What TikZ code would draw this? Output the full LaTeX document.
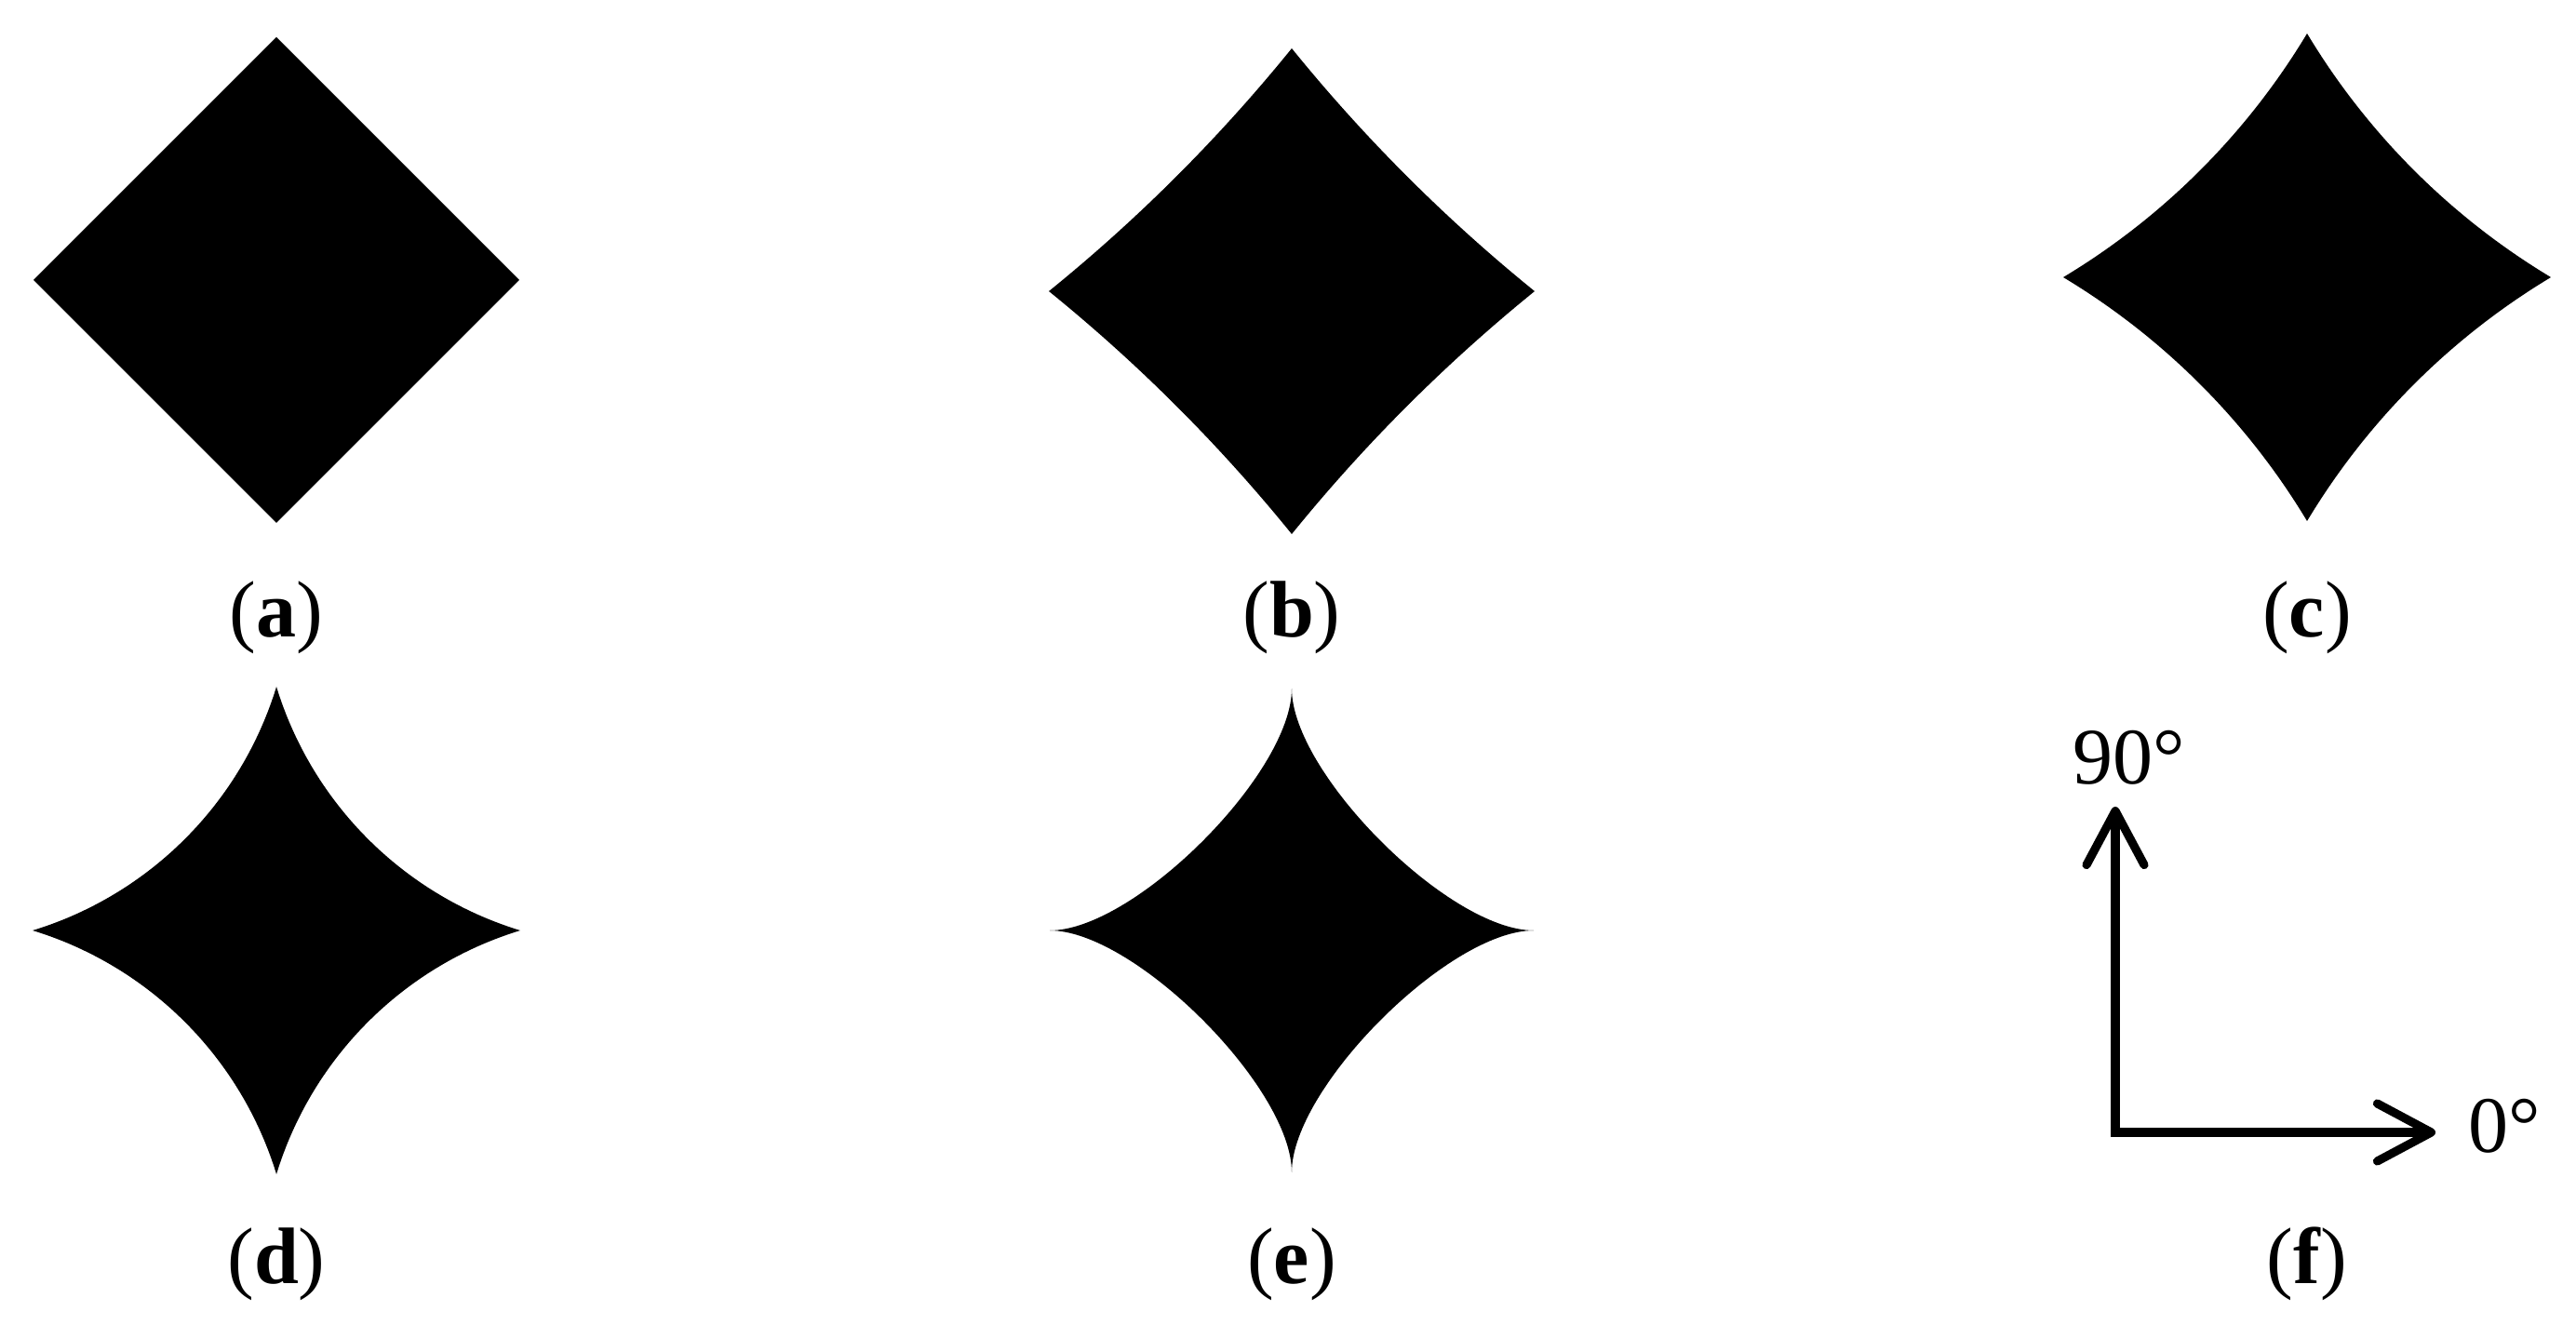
\documentclass[tikz,border=0pt]{standalone}
\usepackage{fontspec}
\setmainfont{Liberation Serif}
\usetikzlibrary{arrows.meta}
% four circular sides: centre, half size, angle of the sides at the tips
\newcommand{\arcshape}[3]{%
  \pgfmathsetmacro{\rr}{#2/(1-tan(#3))/cos(#3)}%
  \fill[shift={#1}] (#2,0)
    arc[start angle=270-#3, end angle=180+#3, radius=\rr]
    arc[start angle=360-#3, end angle=270+#3, radius=\rr]
    arc[start angle=90-#3, end angle=#3, radius=\rr]
    arc[start angle=180-#3, end angle=90+#3, radius=\rr] -- cycle;}
% four cusps: centre, half size, handle length
\newcommand{\cuspshape}[3]{%
  \begin{scope}[shift={#1},x=#2cm,y=#2cm]
  \fill (1,0) .. controls (1-#3,0) and (0,1-#3) .. (0,1)
    .. controls (0,1-#3) and (-1+#3,0) .. (-1,0)
    .. controls (-1+#3,0) and (0,-1+#3) .. (0,-1)
    .. controls (0,-1+#3) and (1-#3,0) .. (1,0) -- cycle;
  \end{scope}}

\begin{document}
\begin{tikzpicture}[
  lbl/.style={font=\fontsize{24.5}{29}\selectfont,anchor=base,inner sep=0pt},
  axis/.style={line width=2.6pt,{Straight Barb[length=5.8mm,width=6.2mm,round]}-{Straight Barb[length=5.8mm,width=6.2mm,round]}}]
\useasboundingbox (0,0) rectangle (27.68,14.37);
% top row
\fill (5.58,11.36) -- (2.97,13.97) -- (0.36,11.36) -- (2.97,8.75) -- cycle;
\arcshape{(13.88,11.24)}{2.61}{39}
\arcshape{(24.79,11.39)}{2.62}{31}
% bottom row
\arcshape{(2.97,4.37)}{2.62}{17}
\cuspshape{(13.88,4.37)}{2.6}{0.35}
% labels
\node[lbl] (la) at (2.97,7.52) {(\textbf{a})};
\node[lbl] (lb) at (13.88,7.52) {(\textbf{b})};
\node[lbl] (lc) at (24.79,7.52) {(\textbf{c})};
\node[lbl] (ld) at (2.97,0.58) {(\textbf{d})};
\node[lbl] (le) at (13.88,0.58) {(\textbf{e})};
\node[lbl] (lf) at (24.79,0.58) {(\textbf{f})};
% directions
\coordinate (org) at (22.73,2.20);
\coordinate (up) at (22.73,5.70);
\coordinate (right) at (26.17,2.20);
\draw[axis] (up) -- (org) -- (right);
\node[lbl] (t90) at (22.88,5.94) {90°};
\node[lbl,anchor=base west] (t0) at (26.52,1.99) {0°};
\end{tikzpicture}
\end{document}
